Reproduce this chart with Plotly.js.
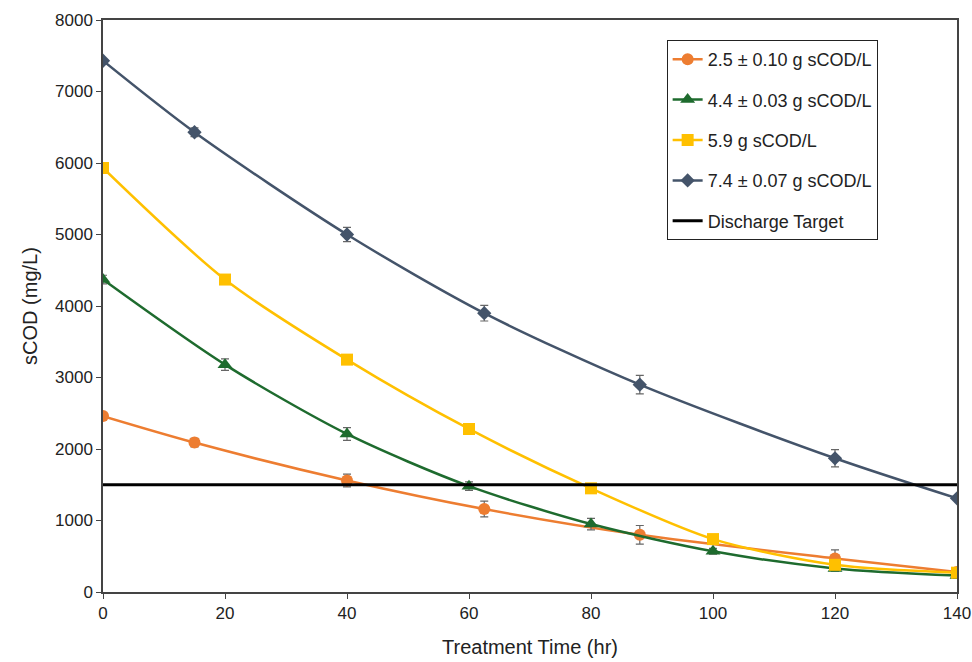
<!DOCTYPE html>
<html><head><meta charset="utf-8">
<script src="https://cdn.plot.ly/plotly-3.0.1.min.js"></script>
<style>body{margin:0;background:#fff}#c{width:972px;height:662px}</style>
</head><body><div id="c"></div>
<script>
const orangeX = [0, 15, 40, 62.5, 88, 120, 140];
const orangeY = [2460, 2090, 1560, 1160, 800, 470, 280];
const orangeErr = [0, 60, 90, 110, 130, 120, 50];
const greenX = [0, 20, 40, 60, 80, 100, 120, 140];
const greenY = [4370, 3180, 2210, 1480, 950, 570, 330, 230];
const greenErr = [60, 80, 90, 60, 80, 40, 40, 40];
const yellowX = [0, 20, 40, 60, 80, 100, 120, 140];
const yellowY = [5930, 4370, 3250, 2280, 1450, 740, 380, 270];
const blueX = [0, 15, 40, 62.5, 88, 120, 140];
const blueY = [7430, 6430, 5000, 3900, 2900, 1870, 1310];
const blueErr = [0, 60, 100, 110, 130, 120, 0];
const targetX = [0, 140];
const targetY = [1500, 1500];

function series(name, x, y, err, color, symbol, size) {
  const t = {
    type: "scatter", mode: "lines+markers", name, legendgroup: name, x, y,
    line: { color, width: 2.5, shape: "spline", smoothing: 0.8 },
    marker: { color, symbol, size },
  };
  if (err) t.error_y = { type: "data", array: err, color: "#666", thickness: 1.2, width: 4 };
  return t;
}

Plotly.newPlot("c", [
  series("2.5 ± 0.10 g sCOD/L", orangeX, orangeY, orangeErr, "#ed7d31", "circle", 12),
  series("4.4 ± 0.03 g sCOD/L", greenX, greenY, greenErr, "#1e6b2e", "triangle-up", 13),
  series("5.9 g sCOD/L", yellowX, yellowY, null, "#ffc000", "square", 12),
  series("7.4 ± 0.07 g sCOD/L", blueX, blueY, blueErr, "#44546a", "diamond", 11),
  { type: "scatter", mode: "lines", name: "Discharge Target", legendgroup: "t", x: targetX, y: targetY,
    line: { color: "#000", width: 3 } },
], {
  width: 972, height: 662,
  margin: { l: 103, r: 15, t: 20, b: 70 },
  paper_bgcolor: "#fff", plot_bgcolor: "#fff",
  font: { family: "Liberation Sans, Arial, sans-serif", color: "#222", size: 17 },
  xaxis: { range: [0, 140], dtick: 20, showgrid: false, zeroline: false,
    showline: true, mirror: true, linecolor: "#444", linewidth: 1.5, ticks: "outside", ticklen: 5,
    title: { text: "Treatment Time (hr)", font: { size: 20 }, standoff: 18 } },
  yaxis: { range: [0, 8000], dtick: 1000, showgrid: false, zeroline: false,
    showline: true, mirror: true, linecolor: "#444", linewidth: 1.5, ticks: "outside", ticklen: 5,
    title: { text: "sCOD (mg/L)", font: { size: 20 }, standoff: 12 } },
  legend: { x: 0.66, y: 0.965, xanchor: "left", yanchor: "top", bgcolor: "#fff",
    bordercolor: "#222", borderwidth: 1, font: { size: 18 }, tracegroupgap: 14, traceorder: "grouped" },
  showlegend: true,
}, { displayModeBar: false });
</script></body></html>
